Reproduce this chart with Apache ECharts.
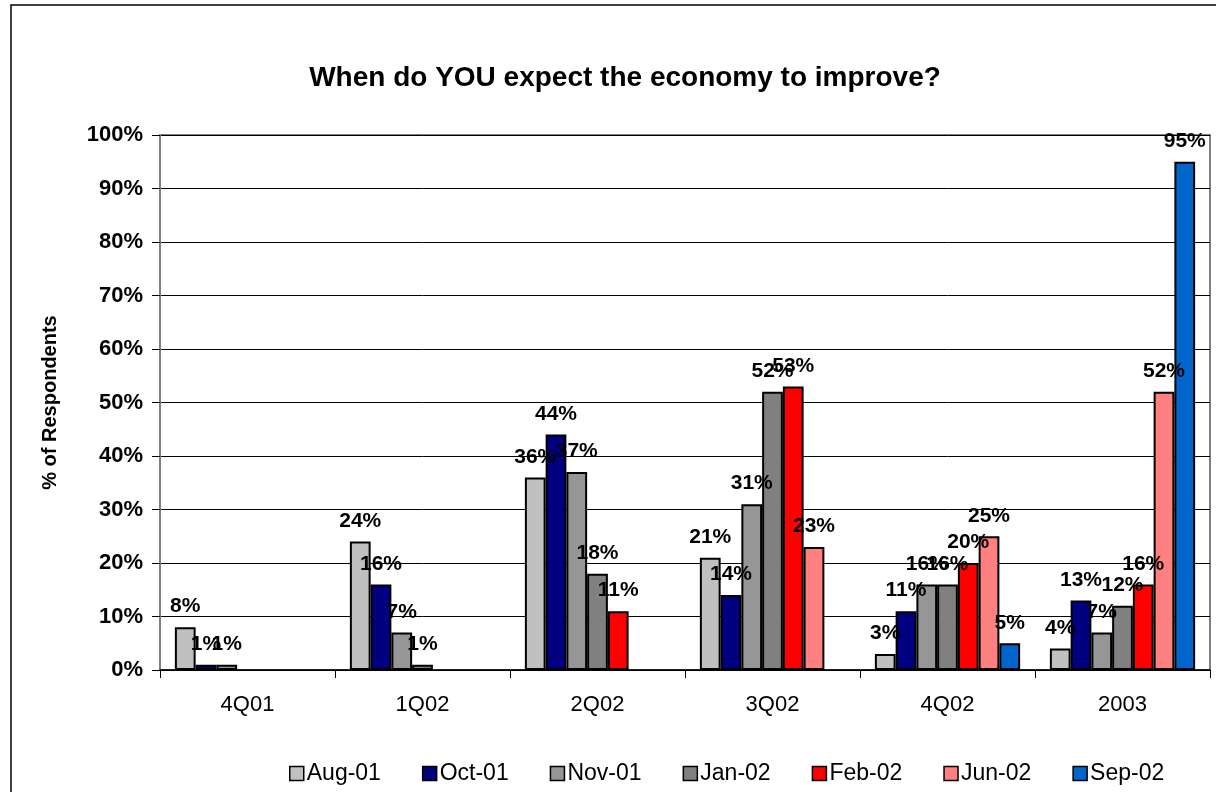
<!DOCTYPE html>
<html>
<head>
<meta charset="utf-8">
<title>When do YOU expect the economy to improve?</title>
<script src="https://cdn.jsdelivr.net/npm/echarts@6/dist/echarts.min.js"></script>
<style>
  html, body { margin: 0; padding: 0; background: #fff; }
  #chart { width: 1216px; height: 792px; }
</style>
</head>
<body>
<div id="chart"></div>
<script>
// Expected recovery quarter, share of respondents per survey wave
const categories = ['4Q01', '1Q02', '2Q02', '3Q02', '4Q02', '2003'];
const surveyNames = ['Aug-01', 'Oct-01', 'Nov-01', 'Jan-02', 'Feb-02', 'Jun-02', 'Sep-02'];

const aug01 = [8, 24, 36, 21, 3, 4];
const oct01 = [1, 16, 44, 14, 11, 13];
const nov01 = [1, 7, 37, 31, 16, 7];
const jan02 = [null, 1, 18, 52, 16, 12];
const feb02 = [null, null, 11, 53, 20, 16];
const jun02 = [null, null, null, 23, 25, 52];
const sep02 = [null, null, null, null, 5, 95];

const seriesValues = [aug01, oct01, nov01, jan02, feb02, jun02, sep02];
const seriesColors = ['#C0C0C0', '#000080', '#969696', '#808080', '#FF0000', '#FF8080', '#0066CC'];

const FONT = '"Liberation Sans", Arial, sans-serif';

const chart = echarts.init(document.getElementById('chart'), null, { renderer: 'canvas' });

chart.setOption({
  animation: false,
  backgroundColor: '#ffffff',
  textStyle: { fontFamily: FONT, color: '#000' },
  title: {
    text: 'When do YOU expect the economy to improve?',
    left: 620,
    top: 59,
    textAlign: 'center',
    textStyle: { fontFamily: FONT, fontSize: 28, fontWeight: 'bold', color: '#000' }
  },
  graphic: [{
    type: 'rect',
    silent: true,
    z: -10,
    shape: { x: 11, y: 5, width: 1240, height: 820 },
    style: { fill: 'none', stroke: '#000', lineWidth: 1.5 }
  }],
  legend: {
    data: surveyNames,
    left: 284,
    top: 757,
    itemWidth: 14,
    itemHeight: 14,
    itemGap: 41,
    icon: 'rect',
    itemStyle: { borderColor: '#000', borderWidth: 1.5 },
    textStyle: { fontFamily: FONT, fontSize: 23, color: '#000', padding: [0, 0, 0, -2] }
  },
  grid: {
    left: 160,
    right: 6,
    top: 135,
    bottom: 122,
    show: true,
    borderColor: '#808080',
    borderWidth: 2,
    backgroundColor: '#fff'
  },
  xAxis: {
    type: 'category',
    data: categories,
    axisLine: { lineStyle: { color: '#000', width: 1.5 } },
    axisTick: { show: true, length: 8, lineStyle: { color: '#000', width: 1 } },
    axisLabel: { fontFamily: FONT, fontSize: 22, color: '#000', margin: 24 }
  },
  yAxis: {
    type: 'value',
    min: 0,
    max: 100,
    interval: 10,
    name: '% of Respondents',
    nameLocation: 'middle',
    nameGap: 100,
    nameTextStyle: { fontFamily: FONT, fontSize: 20, fontWeight: 'bold', color: '#000' },
    axisLine: { show: true, lineStyle: { color: '#808080', width: 2 } },
    axisTick: { show: true, length: 8, lineStyle: { color: '#000', width: 1 } },
    axisLabel: {
      fontFamily: FONT, fontSize: 22, fontWeight: 'bold', color: '#000', margin: 17,
      formatter: '{value}%'
    },
    splitLine: { show: true, lineStyle: { color: '#000', width: 1 } }
  },
  series: surveyNames.map((name, i) => ({
    name: name,
    type: 'bar',
    data: seriesValues[i],
    barGap: '0%',
    barCategoryGap: '17%',
    itemStyle: { color: seriesColors[i], borderColor: '#000', borderWidth: 2 },
    label: {
      show: true,
      position: 'top',
      distance: 10,
      fontFamily: FONT,
      fontSize: 21,
      fontWeight: 'bold',
      color: '#000',
      formatter: p => p.value + '%'
    }
  }))
});
</script>
</body>
</html>
